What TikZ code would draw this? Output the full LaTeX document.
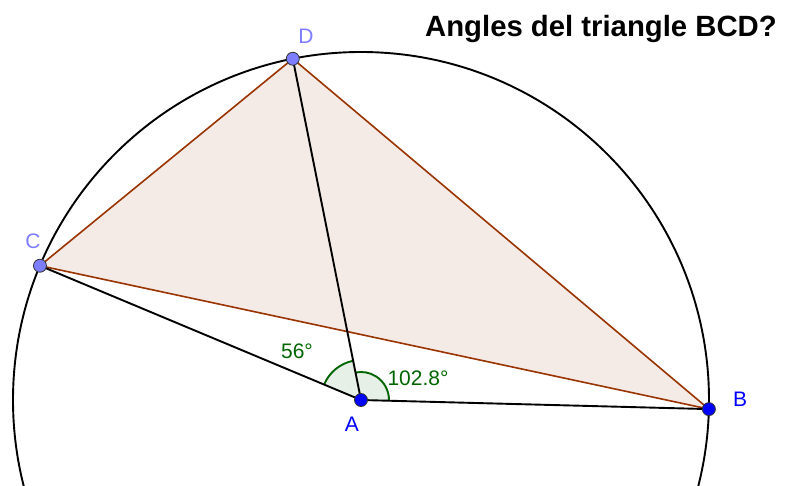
\documentclass[tikz,border=0pt]{standalone}
\usepackage{fontspec}
\setmainfont{Liberation Sans}
\definecolor{ggbrown}{RGB}{153,51,0}
\definecolor{ggfill}{RGB}{245,235,230}
\definecolor{gggreen}{RGB}{0,100,0}
\definecolor{ggangle}{RGB}{230,240,230}
\definecolor{ggpoint}{RGB}{125,125,255}
\tikzset{
	pointfree/.style={circle, draw=black!80, line width=0.8pt, fill=ggpoint, minimum size=13pt, inner sep=0pt},
	pointbase/.style={pointfree, fill=blue},
	seg/.style={line width=1.9pt, black},
	triedge/.style={line width=1.6pt, ggbrown},
	anglearc/.style={line width=1.9pt, gggreen},
	ptlabel/.style={font=\fontsize{21}{24}\selectfont, inner sep=0pt}
}
\begin{document}
\begin{tikzpicture}[x=1pt, y=1pt]
			\useasboundingbox (0,0) rectangle (785,485);
			\clip (0,0) rectangle (785,485);
			\coordinate (A) at (361,85);
			\path (A) ++(-1.5:348) coordinate (B);
			\path (A) ++(101.3:348) coordinate (D);
			\path (A) ++(157.3:348) coordinate (C);
			\draw[seg] (A) circle[radius=348];
			% triangle BCD
			\fill[ggfill] (B) -- (C) -- (D) -- cycle;
			\draw[triedge, line join=round] (B) -- (C) -- (D) -- cycle;
			% angle sectors at A
			\fill[ggangle] (A) -- ++(101.3:40) arc[start angle=101.3, end angle=157.3, radius=40] -- cycle;
			\draw[anglearc] (A) ++(101.3:40) arc[start angle=101.3, end angle=157.3, radius=40];
			\fill[ggangle] (A) -- ++(-1.5:28) arc[start angle=-1.5, end angle=101.3, radius=28] -- cycle;
			\draw[anglearc] (A) ++(-1.5:28) arc[start angle=-1.5, end angle=101.3, radius=28];
			\draw[seg] (A) -- (B);
			\draw[seg] (A) -- (C);
			\draw[seg] (A) -- (D);
			% points
			\node[pointbase] (pA) at (A) {};
			\node[pointbase] (pB) at (B) {};
			\node[pointfree] (pC) at (C) {};
			\node[pointfree] (pD) at (D) {};
			\node[ptlabel, blue] (lA) at (352,61) {A};
			\node[ptlabel, blue] (lB) at (740,86) {B};
			\node[ptlabel, ggpoint] (lC) at (33,244) {C};
			\node[ptlabel, ggpoint] (lD) at (306,449) {D};
			\node[ptlabel, gggreen] (aCAD) at (297,134) {56°};
			\node[ptlabel, gggreen] (aDAB) at (418,107) {102.8°};
			\node[font=\fontsize{29.3}{33}\selectfont\bfseries, anchor=base east, inner sep=0pt] (title) at (777,448) {Angles del triangle BCD?};
		\end{tikzpicture}
\end{document}
